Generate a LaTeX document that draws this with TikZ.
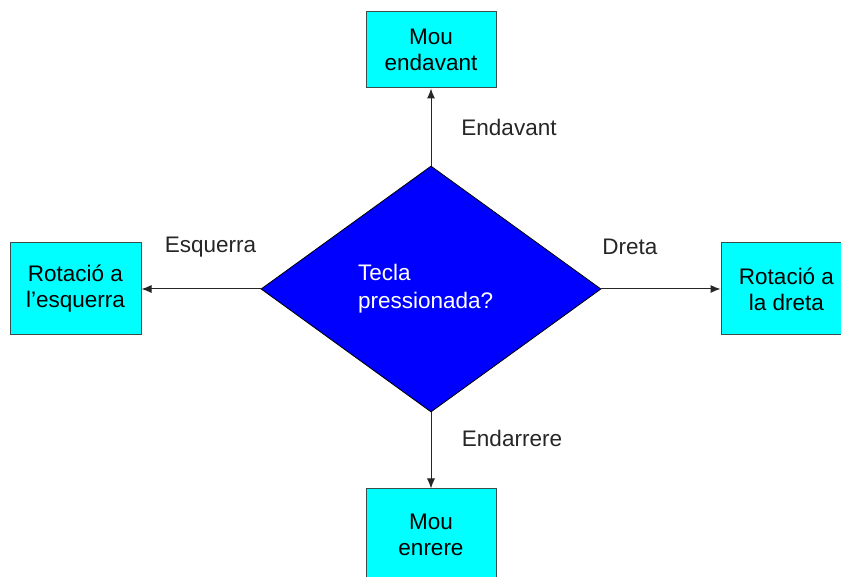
\documentclass[tikz,border=0pt]{standalone}
\usepackage{fontspec}
\setmainfont{Liberation Sans}
\usetikzlibrary{shapes.geometric, arrows.meta}

\definecolor{ciano}{RGB}{0,255,255}
\definecolor{blaupur}{RGB}{0,0,255}
\definecolor{vora}{RGB}{60,75,75}

\tikzset{
    caixa/.style={draw=vora, fill=ciano, line width=1pt, align=center,
        inner sep=0pt, font=\fontsize{22.5}{26}\selectfont},
    decisio/.style={diamond, draw=black, fill=blaupur, line width=0.8pt, text=white,
        align=left, text width=146pt, inner sep=2pt, minimum width=340pt,
        minimum height=246pt, font=\fontsize{22.5}{28}\selectfont},
    fletxa/.style={draw=black!85, line width=1pt, -{Latex[length=10pt,width=8pt]}},
    etiqueta/.style={font=\fontsize{22.5}{26}\selectfont, text=black!85}
}

\begin{document}
\begin{tikzpicture}[x=1pt, y=1pt]
    \clip (0,0) rectangle (841,576);
    \fill[white] (0,0) rectangle (841,576);

    % decisio central
    \node[decisio] (tecla) at (431,287) {Tecla\\pressionada?};

    % caixes d'accio
    \node[caixa, minimum width=130pt, minimum height=76pt] (endavant) at (431,526) {Mou\\endavant};
    \node[caixa, minimum width=131pt, minimum height=92pt] (esquerra) at (75.5,287) {Rotació a\\l'esquerra};
    \node[caixa, minimum width=131pt, minimum height=92pt] (dreta) at (786.5,287) {Rotació a\\la dreta};
    \node[caixa, minimum width=130pt, minimum height=92pt] (enrere) at (431,41) {Mou\\enrere};

    % fletxes
    \draw[fletxa] (tecla.north) -- node[etiqueta, pos=.5, xshift=78pt] {Endavant} (endavant.south);
    \draw[fletxa] (tecla.west) -- node[etiqueta, pos=.42, yshift=42pt] {Esquerra} (esquerra.east);
    \draw[fletxa] (tecla.east) -- node[etiqueta, pos=.24, yshift=42pt] {Dreta} (dreta.west);
    \draw[fletxa] (tecla.south) -- node[etiqueta, pos=.34, xshift=81pt] {Endarrere} (enrere.north);

\end{tikzpicture}
\end{document}
